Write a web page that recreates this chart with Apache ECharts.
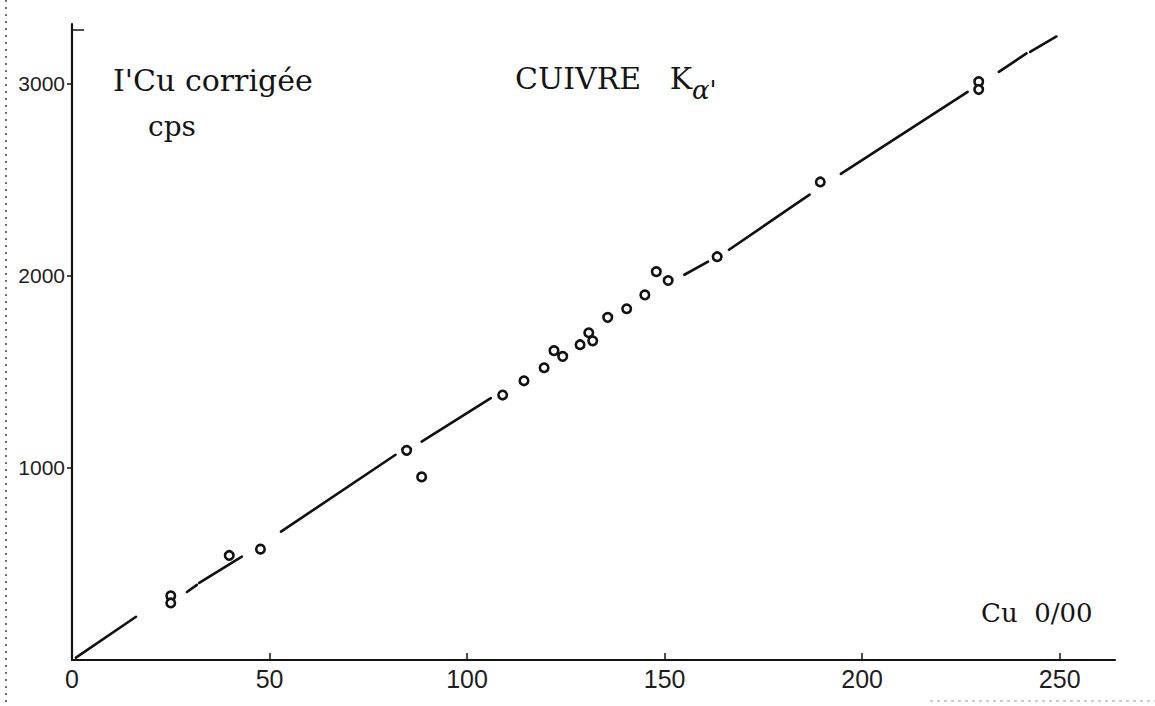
<!DOCTYPE html>
<html><head><meta charset="utf-8">
<script src="https://cdn.jsdelivr.net/npm/echarts@6/dist/echarts.min.js"></script>
<style>html,body{margin:0;padding:0;background:#fff}#c{width:1155px;height:706px}</style>
</head><body><div id="c"></div>
<script>
// measured points: Cu (0/00) vs corrected intensity (cps)
const cuValues = [25.0,25.0,39.8,47.7,84.7,88.5,109.0,114.4,119.5,122.0,124.2,128.6,130.8,131.8,135.6,140.4,145.0,147.9,150.9,163.3,189.4,229.5,229.5];
const intensityValues = [334,297,544,577,1091,953,1379,1453,1521,1610,1580,1641,1703,1661,1783,1828,1900,2021,1975,2099,2488,3010,2969];
// hand-drawn calibration line, drawn as broken segments
const fitStartCu = [1.0,29.1,32.2,52.9,88.5,155.0,166.3,194.6,234.6,242.5];
const fitStartI  = [12,354,401,668,1137,2005,2135,2530,3061,3165];
const fitEndCu   = [16.2,31.6,43.0,81.9,106.0,161.0,186.7,226.7,241.6,249.2];
const fitEndI    = [225,391,538,1068,1363,2073,2422,2957,3157,3245];
const xTickLabels = [0,50,100,150,200,250];
const xTickMarks = [50,100,150,200,250];
const yTickLabels = [1000,2000,3000];
const yTopMark = [3280];
const yTitle1 = "I'Cu corrigée";
const yTitle2 = "cps";
const chartTitle = "CUIVRE   K";
const chartTitleSub = "α'";
const xTitle = "Cu  0/00";

const chart = echarts.init(document.getElementById('c'), null, {renderer: 'svg'});
const scatterData = cuValues.map((v, i) => [v, intensityValues[i]]);
const lineSeries = fitStartCu.map((v, i) => ({
  type: 'line', symbol: 'none', silent: true, z: 2,
  lineStyle: {color: '#111', width: 2.6, cap: 'round'},
  data: [[v, fitStartI[i]], [fitEndCu[i], fitEndI[i]]]
}));
const ink = '#141414';
const serif = '"DejaVu Serif", "Liberation Serif", serif';
const sans = '"Liberation Sans", Arial, sans-serif';
chart.setOption({
  animation: false,
  backgroundColor: '#fff',
  grid: {left: 72, right: 40, top: 24, bottom: 46},
  xAxis: {
    type: 'value', min: 0, max: 264,
    splitLine: {show: false},
    axisLine: {show: true, onZero: false, lineStyle: {color: ink, width: 2.2}},
    axisTick: {show: true, customValues: xTickMarks, inside: true, length: 7, lineStyle: {color: ink, width: 1.5}},
    axisLabel: {customValues: xTickLabels, formatter: v => String(v), fontSize: 25, fontFamily: sans, color: '#1e1e1e', margin: 6}
  },
  yAxis: [{
    type: 'value', min: 0, max: 3310,
    splitLine: {show: false},
    axisLine: {show: true, lineStyle: {color: ink, width: 2.2}},
    axisTick: {show: true, customValues: yTickLabels, length: 5, lineStyle: {color: ink, width: 1.5}},
    axisLabel: {customValues: yTickLabels, formatter: v => String(v), fontSize: 21, fontFamily: sans, color: '#1e1e1e', margin: 7}
  }, {
    type: 'value', min: 0, max: 3310, position: 'left',
    splitLine: {show: false},
    axisLine: {show: false},
    axisTick: {show: true, customValues: yTopMark, inside: true, length: 12, lineStyle: {color: ink, width: 1.5}},
    axisLabel: {show: false}
  }],
  series: lineSeries.concat([{
    type: 'scatter', z: 5,
    symbol: 'circle', symbolSize: 8.5,
    itemStyle: {color: '#fff', borderColor: '#111', borderWidth: 2.6, opacity: 1},
    data: scatterData
  }]),
  graphic: [
    {type: 'text', left: 113, top: 65, style: {text: yTitle1, font: '30px ' + serif, fill: ink}},
    {type: 'text', left: 148, top: 112, style: {text: yTitle2, font: '28px ' + serif, fill: ink}},
    {type: 'text', left: 515, top: 63, style: {text: chartTitle, font: '30px ' + serif, fill: ink}},
    {type: 'text', left: 692, top: 77, style: {text: chartTitleSub, font: 'italic 26px ' + serif, fill: ink}},
    {type: 'text', left: 981, top: 600, style: {text: xTitle, font: '26px ' + serif, fill: ink}},
    {type: 'line', silent: true, shape: {x1: 6, y1: 0, x2: 6, y2: 706}, style: {stroke: '#444', lineWidth: 1.5, lineDash: [2, 5]}},
    {type: 'line', silent: true, shape: {x1: 930, y1: 701, x2: 1155, y2: 701}, style: {stroke: '#999', lineWidth: 1, lineDash: [3, 4]}}
  ]
});
</script></body></html>
